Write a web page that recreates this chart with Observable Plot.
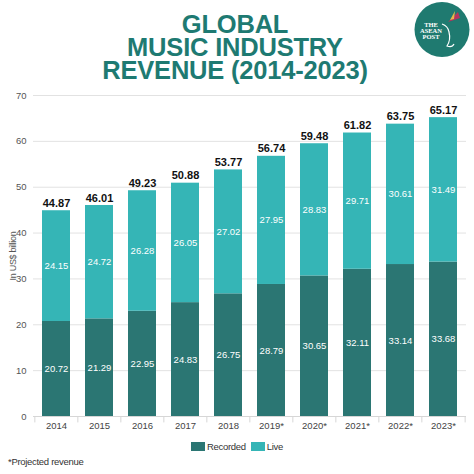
<!DOCTYPE html>
<html>
<head>
<meta charset="utf-8">
<script src="https://cdn.jsdelivr.net/npm/d3@7"></script>
<script src="https://cdn.jsdelivr.net/npm/@observablehq/plot@0.6"></script>
<style>
  html, body { margin: 0; padding: 0; background: #fff; }
  body { width: 474px; height: 474px; position: relative; overflow: hidden; font-family: "Liberation Sans", Arial, sans-serif; }
  .tl { position: absolute; left: -2px; width: 474px; text-align: center; color: #1e7a72; font-weight: bold; font-size: 25.5px; line-height: 20px; height: 20px; letter-spacing: -0.2px; white-space: nowrap; }
  #logo { position: absolute; left: 414px; top: 2px; }
  #chart { position: absolute; left: 0; top: 85px; }
  #legend { position: absolute; top: 441px; left: 0; width: 474px; display: flex; justify-content: center; gap: 5px; font-size: 9.5px; letter-spacing: -0.3px; color: #333; }
  #legend span { display: inline-flex; align-items: center; }
  #legend i { display: inline-block; width: 14px; height: 9px; margin-right: 2px; }
  #note { position: absolute; left: 8px; top: 456px; font-size: 9.5px; letter-spacing: -0.3px; color: #333; }
</style>
</head>
<body>
<div class="tl" style="top:14px">GLOBAL</div>
<div class="tl" style="top:37px">MUSIC INDUSTRY</div>
<div class="tl" style="top:60px">REVENUE (2014-2023)</div>
<svg id="logo" width="56" height="56" viewBox="0 0 56 56">
  <circle cx="28" cy="27.5" r="27.5" fill="#1f7a70"/>
  <text x="17" y="25" fill="#fff" font-family="Liberation Serif, serif" font-weight="bold" font-size="6.5" text-anchor="middle">THE</text>
  <text x="17" y="31" fill="#fff" font-family="Liberation Serif, serif" font-weight="bold" font-size="6.5" text-anchor="middle">ASEAN</text>
  <text x="17" y="37" fill="#fff" font-family="Liberation Serif, serif" font-weight="bold" font-size="6.5" text-anchor="middle">POST</text>
  <path d="M28 22 Q34 24 35 30 Q37 38 33 44 Q38 46 40 42" fill="none" stroke="#fff" stroke-width="1.2"/>
  <path d="M34 20 L44 10 L46 16 Z" fill="#b3365e"/>
  <path d="M36 18 L41 9 L40 17 Z" fill="#e7b84a"/>
</svg>
<div id="chart"></div>
<div id="legend">
  <span><i style="background:#2b7673"></i>Recorded</span>
  <span><i style="background:#35b5b6"></i>Live</span>
</div>
<div id="note">*Projected revenue</div>
<script>
const years = ["2014","2015","2016","2017","2018","2019*","2020*","2021*","2022*","2023*"];
const recorded = [20.72, 21.29, 22.95, 24.83, 26.75, 28.79, 30.65, 32.11, 33.14, 33.68];
const live = [24.15, 24.72, 26.28, 26.05, 27.02, 27.95, 28.83, 29.71, 30.61, 31.49];
const totals = [44.87, 46.01, 49.23, 50.88, 53.77, 56.74, 59.48, 61.82, 63.75, 65.17];
const types = ["Recorded", "Live"];
const colors = ["#2b7673", "#35b5b6"];
const yTicks = [0, 10, 20, 30, 40, 50, 60, 70];

const rows = [];
years.forEach((y, i) => {
  rows.push({year: y, type: "Recorded", value: recorded[i]});
  rows.push({year: y, type: "Live", value: live[i]});
});
const totalRows = years.map((y, i) => ({year: y, total: totals[i]}));

const W = 474, H = 350, ML = 33, MR = 8, MT = 10, MB = 19;
const step = (W - ML - MR) / years.length;

const chart = Plot.plot({
  width: W, height: H,
  marginLeft: ML, marginRight: MR, marginTop: MT, marginBottom: MB,
  style: {fontFamily: "Liberation Sans, Arial, sans-serif", background: "transparent"},
  x: {domain: years, paddingInner: 0.35, paddingOuter: 0.175, label: null},
  y: {domain: [0, 70], label: null},
  color: {domain: types, range: colors},
  marks: [
    Plot.gridY(yTicks, {stroke: "#e2e2e2", strokeOpacity: 1}),
    Plot.axisY({ticks: yTicks, tickSize: 0, tickPadding: 7, fontSize: 9.5, color: "#555",
      label: "In US$ billion", labelAnchor: "center", labelArrow: "none", labelOffset: 24}),
    Plot.axisX({tickSize: 0, tickPadding: 6, fontSize: 9.5, color: "#444", label: null}),
    Plot.ruleX(years, {x: d => d, y1: 0, y2: -1.4, dx: -step / 2, stroke: "#d6d6d6"}),
    Plot.ruleX([years[years.length - 1]], {x: d => d, y1: 0, y2: -1.4, dx: step / 2, stroke: "#d6d6d6"}),
    Plot.barY(rows, {x: "year", y: "value", fill: "type", order: types}),
    Plot.text(rows, Plot.stackY({x: "year", y: "value", z: "type", order: types,
      text: d => d.value.toFixed(2), fill: "white", fontSize: 9.5, letterSpacing: "-0.3px"})),
    Plot.text(totalRows, {x: "year", y: "total", text: d => d.total.toFixed(2), dy: -7.5,
      fill: "#111", fontWeight: "bold", fontSize: 11}),
    Plot.ruleY([0], {stroke: "#d6d6d6"})
  ]
});
chart.querySelectorAll("g[aria-label='y-axis label'] text").forEach(t => { t.style.fontSize = "9px"; t.style.letterSpacing = "-0.3px"; });
document.getElementById("chart").append(chart);
</script>
</body>
</html>
